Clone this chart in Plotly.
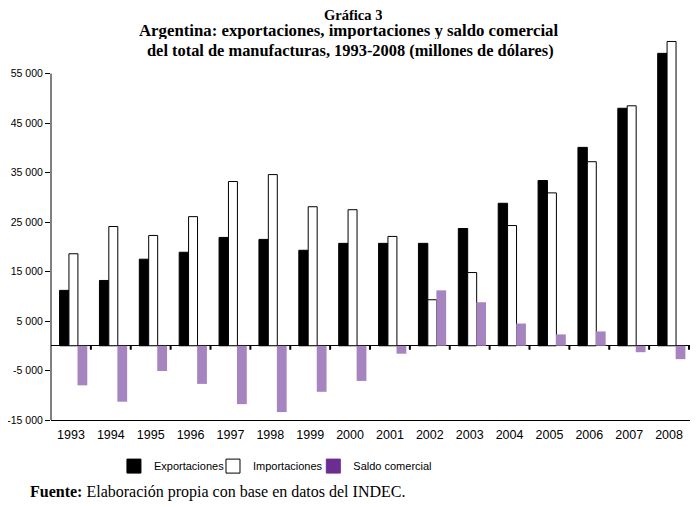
import plotly.graph_objects as go

# datos (millones de dolares)
anios = ['1993', '1994', '1995', '1996', '1997', '1998', '1999', '2000',
         '2001', '2002', '2003', '2004', '2005', '2006', '2007', '2008']
exportaciones = [11200, 13200, 17500, 18900, 21900, 21500, 19300, 20700,
                 20700, 20700, 23700, 28800, 33400, 40100, 48000, 59100]
importaciones = [18600, 24100, 22300, 26100, 33200, 34600, 28100, 27500,
                 22100, 9300, 14800, 24300, 30900, 37200, 48500, 61500]
saldo = [-8000, -11300, -5100, -7700, -11800, -13400, -9300, -7100,
         -1600, 11200, 8800, 4500, 2300, 2900, -1300, -2700]
y_ticks = [-15000, -5000, 5000, 15000, 25000, 35000, 45000, 55000]
y_labels = [f"{v:,}".replace(',', ' ') for v in y_ticks]

fuente_eje = 'Liberation Sans, Arial, sans-serif'
fuente_titulo = 'Liberation Serif, Times New Roman, serif'

fig = go.Figure()
fig.add_trace(go.Bar(x=anios, y=exportaciones, name='Exportaciones',
                     width=0.235, offset=-0.285,
                     marker=dict(color='black', line=dict(color='black', width=1)),
                     showlegend=False))
fig.add_trace(go.Bar(x=anios, y=importaciones, name='Importaciones',
                     width=0.225, offset=-0.05,
                     marker=dict(color='white', line=dict(color='black', width=1)),
                     showlegend=False))
fig.add_trace(go.Bar(x=anios, y=saldo, name='Saldo comercial',
                     width=0.245, offset=0.165,
                     marker=dict(color='#a584bf', line=dict(width=0)),
                     showlegend=False))

# entradas de leyenda (el cuadro de saldo es mas oscuro que las barras)
leyendas = [('Exportaciones', 'black', 'black', 'legend', 0.0985),
            ('Importaciones', 'white', 'black', 'legend2', 0.2535),
            ('Saldo comercial', '#6c2d92', '#6c2d92', 'legend3', 0.4105)]
for nombre, color, borde, ley, _ in leyendas:
    fig.add_trace(go.Scatter(x=[None], y=[None], mode='markers', name=nombre, legend=ley,
                             marker=dict(symbol='square', size=14, color=color,
                                         line=dict(color=borde, width=1))))
for _, _, _, ley, xpos in leyendas:
    fig.update_layout({ley: dict(orientation='h', x=xpos, xanchor='left', y=-0.121,
                                 yanchor='middle', bgcolor='rgba(0,0,0,0)',
                                 font=dict(family=fuente_eje, size=11, color='black'))})

# eje y solo hasta 55 000 y marcas sobre la linea del cero
fig.add_shape(type='line', xref='paper', yref='y', x0=0, x1=0, y0=-15000, y1=55000,
              line=dict(color='black', width=1))
for i in range(len(anios)):
    fig.add_shape(type='line', xref='x', yref='y', x0=i + 0.5, x1=i + 0.5,
                  ysizemode='pixel', yanchor=0, y0=0, y1=-4,
                  line=dict(color='black', width=2))

fig.update_layout(
    width=698, height=507,
    margin=dict(l=43, r=16, t=31, b=95, autoexpand=False),
    paper_bgcolor='white', plot_bgcolor='white',
    font=dict(family=fuente_eje, color='black'),
)
fig.update_xaxes(showline=True, linecolor='black', linewidth=1, ticks='',
                 tickfont=dict(family=fuente_eje, size=12.5, color='black'),
                 ticklabelstandoff=3,
                 showgrid=False, zeroline=False, automargin=False)
fig.update_yaxes(range=[-15000, 62000], tickvals=y_ticks, ticktext=y_labels,
                 ticks='outside', ticklen=5, tickcolor='black', showline=False,
                 showgrid=False, zeroline=True, zerolinecolor='black', zerolinewidth=1,
                 tickfont=dict(family=fuente_eje, size=10.5, color='black'),
                 ticklabelstandoff=0, automargin=False)

titulo = [('Gráfica 3', 14.5, 0.473, 1.0617, 14),
          ('Argentina: exportaciones, importaciones y saldo comercial', 16.8, 0.466, 1.0210, 17),
          ('del total de manufacturas, 1993-2008 (millones de dólares)', 16.4, 0.468, 0.9690, 17)]
for texto, tam, xpos, ypos, alto in titulo:
    fig.add_annotation(text=f'<b>{texto}</b>', xref='paper', yref='paper',
                       x=xpos, y=ypos, xanchor='center', yanchor='middle',
                       height=alto, borderpad=0, showarrow=False,
                       font=dict(family=fuente_titulo, size=tam, color='black'))
fig.add_annotation(text='<b>Fuente:</b> Elaboración propia con base en datos del INDEC.',
                   xref='paper', yref='paper', x=-0.036, y=-0.189, xanchor='left', yanchor='middle',
                   showarrow=False, font=dict(family=fuente_titulo, size=16, color='black'))

fig.write_html("out.html")
